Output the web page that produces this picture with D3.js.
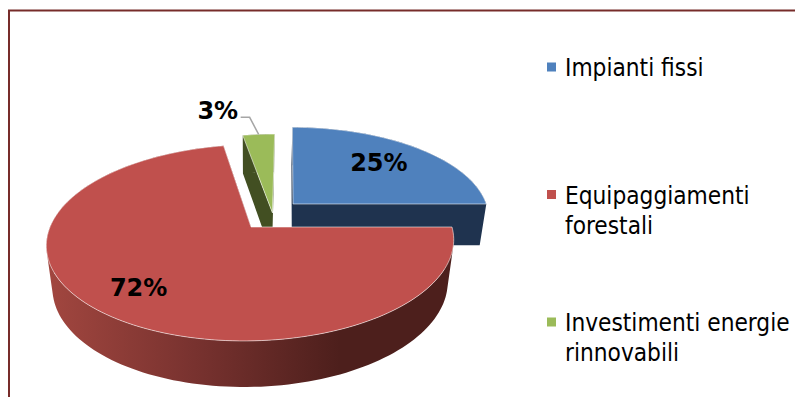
<!DOCTYPE html>
<html>
<head>
<meta charset="utf-8">
<script src="https://cdn.jsdelivr.net/npm/d3@7"></script>
<style>
html,body{margin:0;padding:0;background:#fff;}
svg{display:block;}
</style>
</head>
<body>
<svg id="chart" width="795" height="397"></svg>
<script>
const categories = ["Impianti fissi", "Equipaggiamenti forestali", "Investimenti energie rinnovabili"];
const legendLines = [["Impianti fissi"], ["Equipaggiamenti", "forestali"], ["Investimenti energie", "rinnovabili"]];
const values = [25, 72, 3];
const topColors = ["#4f81bd", "#c0504d", "#9bbb59"];
const sideColors = ["#1f334f", "url(#redSide)", "#424f22"];
// Radial pull of each slice, in pie-radius units on the ground plane
const explodeX = [0.21, 0, 0.105];
const explodeY = [0.25, 0, 0.15];

const svg = d3.select("#chart");
const fontBody = "Tahoma, 'DejaVu Sans', sans-serif";

// Frame around the chart area
svg.append("path").attr("d", "M795 10.5H9V397").attr("fill", "none")
  .attr("stroke", "#772c2a").attr("stroke-width", 2);

// Gradient along the rim of the large slice
const defs = svg.append("defs");
const grad = defs.append("linearGradient").attr("id", "redSide")
  .attr("gradientUnits", "userSpaceOnUse").attr("x1", 50).attr("x2", 340).attr("y1", 0).attr("y2", 0);
grad.append("stop").attr("offset", 0).attr("stop-color", "#a1463f");
grad.append("stop").attr("offset", 0.5).attr("stop-color", "#78322f");
grad.append("stop").attr("offset", 1).attr("stop-color", "#4d1f1c");

// Perspective view of the pie: unit-disc coordinates to screen coordinates
const view = {x0: 251, y0: 227, b: 201, a: 95.7, shear: 6, k: 0.16, m: 0.03, c: 43.5};
function project(X, Y, depth) {
  const w = 1 + view.k * Y + view.m * depth;
  return [
    view.x0 + (view.b * X + view.shear * Y) / w,
    view.y0 - (view.a * Y - view.c * depth) / w
  ];
}

const arcs = d3.pie().value(d => d).sort(null).startAngle(0).endAngle(2 * Math.PI)(values);

// Outline of a slice as ground-plane points: apex, outer arc, back to apex
function outline(arc, i) {
  const n = Math.max(4, Math.ceil((arc.endAngle - arc.startAngle) / 0.03));
  const pts = [[explodeX[i], explodeY[i]]];
  d3.range(n + 1).forEach(j => {
    const t = arc.startAngle + (arc.endAngle - arc.startAngle) * j / n;
    pts.push([explodeX[i] + Math.sin(t), explodeY[i] + Math.cos(t)]);
  });
  return pts;
}

const line = d3.line();

function drawSlice(i) {
  const pts = outline(arcs[i], i);
  // All rim quads share one path, wound the same way, so no seams or holes appear
  const rim = pts.map((p, j) => {
    const q = pts[(j + 1) % pts.length];
    const quad = [project(p[0], p[1], 0), project(q[0], q[1], 0), project(q[0], q[1], 1), project(p[0], p[1], 1)];
    if (d3.polygonArea(quad) < 0) quad.reverse();
    return line(quad) + "Z";
  }).join("");
  svg.append("path").attr("d", rim).attr("fill", sideColors[i]);
  svg.append("path")
    .attr("d", line(pts.map(p => project(p[0], p[1], 0))) + "Z")
    .attr("fill", topColors[i])
    .attr("stroke", "#ffffff").attr("stroke-opacity", 0.55).attr("stroke-width", 1)
    .attr("stroke-linejoin", "round");
}

// Painter's order: back slices first, the large slice last
[2, 0, 1].forEach(drawSlice);

// Leader line of the small slice
const midSmall = (arcs[2].startAngle + arcs[2].endAngle) / 2;
const leaderEnd = project(explodeX[2] + Math.sin(midSmall), explodeY[2] + Math.cos(midSmall), 0);
svg.append("path")
  .attr("d", d3.line()([[leaderEnd[0] - 18, leaderEnd[1] - 17], [leaderEnd[0] - 9, leaderEnd[1] - 17], leaderEnd]))
  .attr("fill", "none").attr("stroke", "#a6a6a6").attr("stroke-width", 1.5);

// Percentage labels, placed on the ground plane
const labelPos = [[0.69, 0.748], [-0.49, -0.578], [-0.25, 1.504]];
values.forEach((v, i) => {
  const p = project(labelPos[i][0], labelPos[i][1], 0);
  svg.append("text").attr("x", p[0]).attr("y", p[1])
    .attr("text-anchor", "middle").attr("dominant-baseline", "central")
    .attr("font-family", "'DejaVu Sans', sans-serif").attr("font-weight", "bold")
    .attr("font-size", 24).attr("fill", "#000")
    .text(v + "%");
});

// Legend
const legendY = d3.scalePoint().domain(categories).range([76, 331]);
categories.forEach((c, i) => {
  const y = legendY(c);
  svg.append("rect").attr("x", 547).attr("y", y - 13.5).attr("width", 9).attr("height", 9)
    .attr("fill", topColors[i]);
  const text = svg.append("text").attr("y", y)
    .attr("font-family", fontBody).attr("font-size", 24.2).attr("fill", "#000")
    .attr("font-stretch", "condensed");
  legendLines[i].forEach((ln, j) => {
    text.append("tspan").attr("x", 565).attr("dy", j ? 30 : 0).text(ln);
  });
});
</script>
</body>
</html>
